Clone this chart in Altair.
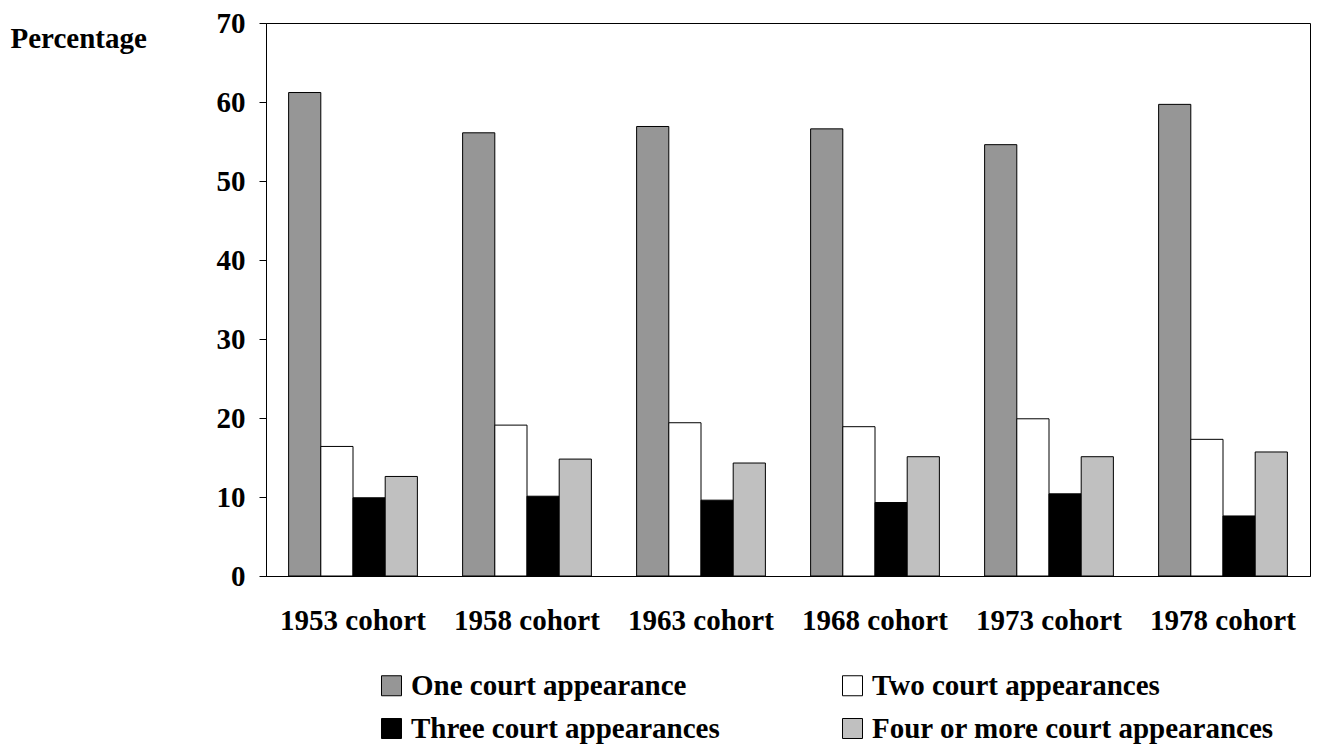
import altair as alt
import pandas as pd

cohorts = ["1953 cohort", "1958 cohort", "1963 cohort", "1968 cohort", "1973 cohort", "1978 cohort"]
series = ["One court appearance", "Two court appearances",
          "Three court appearances", "Four or more court appearances"]
one = [61.2, 56.1, 56.9, 56.6, 54.6, 59.7]
two = [16.4, 19.1, 19.4, 18.9, 19.9, 17.3]
three = [9.9, 10.1, 9.6, 9.3, 10.4, 7.6]
four = [12.6, 14.8, 14.3, 15.1, 15.1, 15.7]
colors = ["#969696", "#ffffff", "#000000", "#c0c0c0"]
y_ticks = [0, 10, 20, 30, 40, 50, 60, 70]

rows = []
for i, c in enumerate(cohorts):
    for s, vals in zip(series, [one, two, three, four]):
        rows.append({"cohort": c, "series": s, "value": vals[i]})
df = pd.DataFrame(rows)

FONT = "Liberation Serif"
FS = 29

chart = alt.Chart(df).mark_bar(stroke="black", strokeWidth=1).encode(
    x=alt.X("cohort:N", sort=cohorts,
            scale=alt.Scale(paddingInner=0.26, paddingOuter=0.13),
            axis=alt.Axis(title=None, labelAngle=0, ticks=False, labelPadding=30,
                          labelFontSize=FS, labelFont=FONT, labelFontWeight="bold",
                          labelColor="black", domainColor="black", labelLimit=400)),
    xOffset=alt.XOffset("series:N", sort=series),
    y=alt.Y("value:Q", scale=alt.Scale(domain=[0, 70], nice=False),
            axis=alt.Axis(values=y_ticks, title="Percentage", titleAngle=0,
                          titleAlign="left", titleBaseline="alphabetic",
                          titleX=-256, titleY=24, titleFont=FONT, titleFontSize=FS,
                          titleFontWeight="bold", titleColor="black",
                          grid=False, tickSize=7, tickColor="black", domainColor="black",
                          labelPadding=14, labelFont=FONT, labelFontSize=FS,
                          labelFontWeight="bold", labelColor="black")),
    color=alt.Color("series:N", sort=series,
                    scale=alt.Scale(domain=series, range=colors),
                    legend=alt.Legend(title=None, orient="none", legendX=111, legendY=648,
                                      direction="horizontal",
                                      columns=2, columnPadding=118, rowPadding=13,
                                      symbolType="square", symbolSize=400,
                                      symbolStrokeColor="black", symbolStrokeWidth=1,
                                      labelFontSize=FS, labelFont=FONT, labelFontWeight="bold",
                                      labelColor="black", labelLimit=600, labelOffset=5,
                                      padding=0)),
).properties(
    width=1044, height=553,
    autosize=alt.AutoSizeParams(type="none"),
    padding={"left": 258, "top": 15, "right": 1, "bottom": 168},
).configure_view(stroke="black", strokeWidth=1)

chart.save("out.html", embed_options={"renderer": "svg", "actions": False})
